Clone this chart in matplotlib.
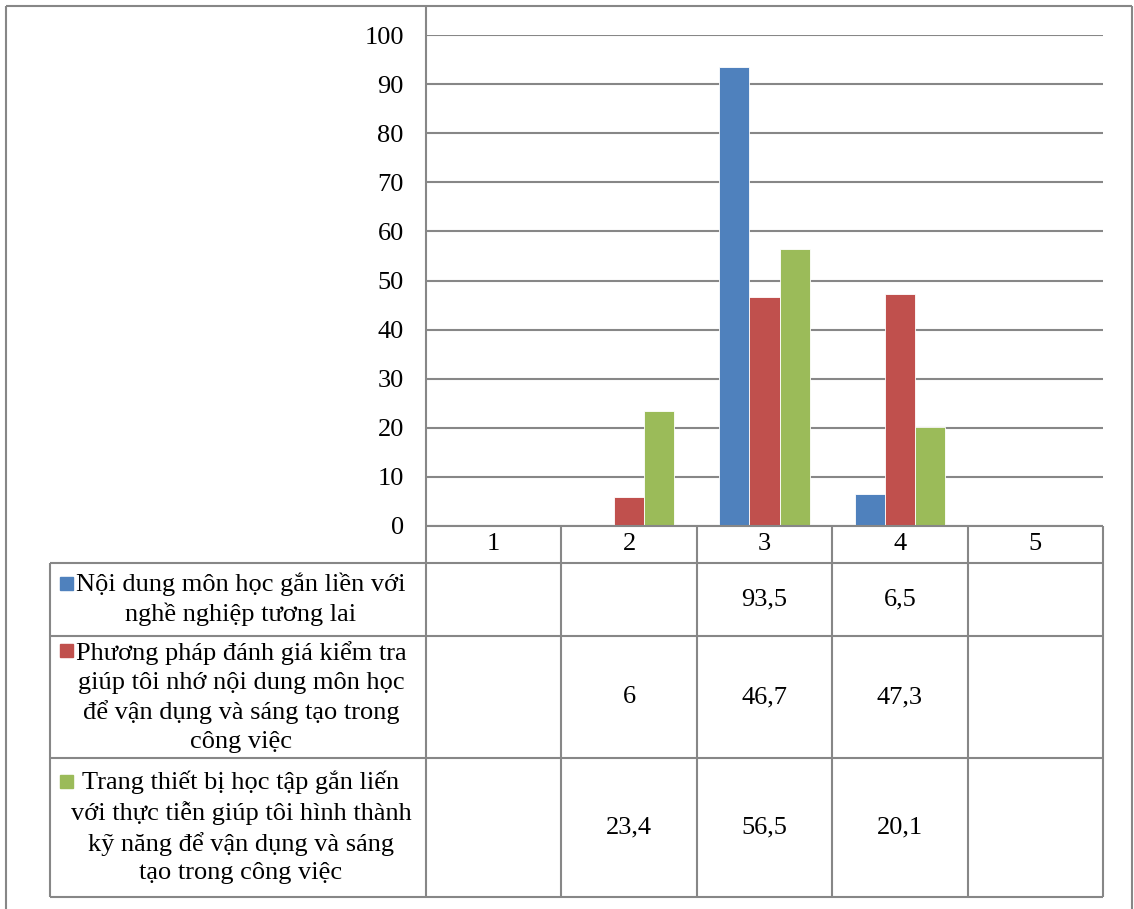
import numpy as np
import matplotlib.pyplot as plt
from matplotlib.lines import Line2D
from matplotlib.patches import Rectangle

# Data
categories = [1, 2, 3, 4, 5]
series_names = [
    "Nội dung môn học gắn liền với\nnghề nghiệp tương lai",
    "Phương pháp đánh giá kiểm tra\ngiúp tôi nhớ nội dung môn học\nđể vận dụng và sáng tạo trong\ncông việc",
    "Trang thiết bị học tập gắn liến\nvới thực tiễn giúp tôi hình thành\nkỹ năng để vận dụng và sáng\ntạo trong công việc",
]
noi_dung = [None, None, 93.5, 6.5, None]
phuong_phap = [None, 6, 46.7, 47.3, None]
trang_thiet_bi = [None, 23.4, 56.5, 20.1, None]
series = [noi_dung, phuong_phap, trang_thiet_bi]
colors = ["#4F81BD", "#C0504D", "#9BBB59"]

W, H = 1134, 909
GRAY = "#878787"
FONT = "Liberation Serif"
FS = 19

plt.rcParams['font.family'] = [FONT, 'DejaVu Serif']


def fx(x):
    return x / W


def fy(y):
    return 1 - y / H


def fig_line(fig, x0, y0, x1, y1, lw=1.5):
    fig.add_artist(Line2D([fx(x0), fx(x1)], [fy(y0), fy(y1)], color=GRAY,
                          lw=lw, transform=fig.transFigure, solid_capstyle='butt'))


def fmt(v):
    if v is None:
        return ""
    if float(v).is_integer():
        return str(int(v))
    return ("%.1f" % v).replace(".", ",")


fig = plt.figure(figsize=(W / 100, H / 100), dpi=100)

# plot area in pixels
left, right, top, bottom = 426, 1103, 35, 526
ax = fig.add_axes([fx(left), fy(bottom), (right - left) / W, (bottom - top) / H])
ax.set_xlim(0.5, 5.5)
ax.set_ylim(0, 100)
for s in ax.spines.values():
    s.set_visible(False)
ax.set_yticks(range(0, 101, 10))
ax.set_yticklabels([str(v) for v in range(0, 101, 10)], fontsize=FS)
ax.tick_params(axis='y', length=0, pad=16)
ax.set_xticks([])
ax.grid(axis='y', color=GRAY, lw=1.5)
ax.set_axisbelow(True)

bw = 0.222
cats = np.array(categories)
for i, (vals, c) in enumerate(zip(series, colors)):
    xs = [x + (i - 1) * bw for x, v in zip(cats, vals) if v is not None]
    hs = [v for v in vals if v is not None]
    ax.bar(xs, hs, width=bw, color=c, edgecolor="#ffffff", linewidth=0.6, zorder=3)

# table rows (pixel y)
header = (526, 563)
rows = [(563, 636), (636, 758), (758, 897)]
col_x = [426 + k * (right - left) / 5 for k in range(6)]
tleft = 50


def ay(ypix):
    return (bottom - ypix) / (bottom - top)


trans = ax.get_xaxis_transform()
for c in categories:
    ax.text(c, ay(sum(header) / 2), str(c), ha='center', va='center',
            fontsize=FS, transform=trans, clip_on=False)
for (r0, r1), vals in zip(rows, series):
    for c, v in zip(categories, vals):
        ax.text(c, ay((r0 + r1) / 2), fmt(v), ha='center', va='center',
                fontsize=FS, transform=trans, clip_on=False)

# legend cells
line_h = 30.5
for (r0, r1), name, c in zip(rows, series_names, colors):
    cy = (r0 + r1) / 2
    n = name.count("\n") + 1
    fig.text(fx(241), fy(cy), name, ha='center', va='center', fontsize=FS,
             linespacing=1.36, multialignment='center')
    first = cy - (n - 1) / 2 * line_h
    fig.add_artist(Rectangle((fx(60), fy(first + 6)), 13 / W, 13 / H,
                             color=c, transform=fig.transFigure))

# table lines
for y in [header[1]] + [r[1] for r in rows]:
    fig_line(fig, tleft, y, right, y)
fig_line(fig, left, header[0], right, header[0])
fig_line(fig, left, 6, left, rows[-1][1])
fig_line(fig, tleft, header[1], tleft, rows[-1][1])
for x in col_x[1:]:
    fig_line(fig, x, header[0], x, rows[-1][1])

# outer frame
fig_line(fig, 6, 6, 1132, 6)
fig_line(fig, 6, 6, 6, H)
fig_line(fig, 1132, 6, 1132, H)

fig.savefig("out.png", dpi=100)
